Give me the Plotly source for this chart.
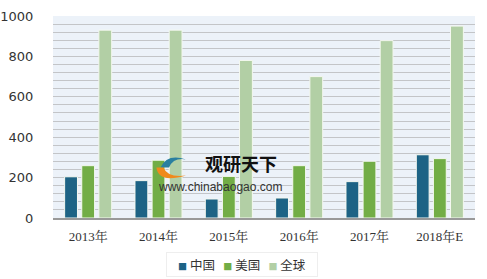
import plotly.graph_objects as go

years = ["2013年", "2014年", "2015年", "2016年", "2017年", "2018年E"]
china = [204, 185, 94, 99, 180, 313]
usa = [259, 286, 206, 259, 281, 294]
world = [930, 930, 780, 700, 878, 950]

series = [
    ("中国", china, "#1d6385"),
    ("美国", usa, "#72ad46"),
    ("全球", world, "#b2cfa5"),
]

fig = go.Figure()
for name, vals, color in series:
    fig.add_trace(go.Bar(
        x=years, y=vals, name=name,
        marker=dict(color=color, line=dict(color="#f4f8f0", width=1)),
    ))

fig.update_layout(
    width=487, height=279,
    margin=dict(l=53, r=12, t=16, b=61, autoexpand=False),
    paper_bgcolor="white",
    plot_bgcolor="#ecf2f9",
    barmode="group",
    bargap=0.27,
    bargroupgap=0.25,
    font=dict(family="Noto Sans CJK SC, sans-serif", color="#333333"),
    showlegend=False,
    xaxis=dict(
        showgrid=False, showline=True, linecolor="#999999", linewidth=1.5,
        ticks="outside", ticklen=6, tickcolor="rgba(0,0,0,0)",
        tickfont=dict(size=13, family="Liberation Serif, Noto Serif CJK SC, Noto Sans CJK SC", color="#333333"),
        automargin=False,
    ),
    yaxis=dict(
        range=[0, 1000], tickvals=[0, 200, 400, 600, 800, 1000],
        showgrid=True, gridcolor="#c3c5c8", gridwidth=1,
        minor=dict(dtick=40, tick0=0, showgrid=True, gridcolor="#c3c5c8", gridwidth=1),
        zeroline=False, showline=False,
        ticks="outside", ticklen=16, tickcolor="rgba(0,0,0,0)",
        tickfont=dict(size=13, family="DejaVu Sans, sans-serif", color="#333333"),
        automargin=False,
    ),
)

# Compact legend box below the axis: small colour squares before each series name
legend_parts = [
    f"<span style='color:{color};font-size:9px'>■</span> {name}"
    for name, _, color in series
]
fig.add_annotation(
    text="&nbsp;&nbsp;&nbsp;".join(legend_parts),
    xref="paper", yref="paper", x=0.448, y=-0.228,
    xanchor="center", yanchor="middle", showarrow=False,
    font=dict(size=12.5, color="#333333", family="Noto Sans CJK SC"),
    bgcolor="white", bordercolor="#eeeeee", borderwidth=1, borderpad=2,
    width=146,
)

# Watermark brand text
fig.add_annotation(
    text="<b>观研天下</b>", xref="paper", yref="paper",
    x=0.445, y=0.196, showarrow=False,
    font=dict(size=18, color="#111111", family="Noto Sans CJK SC"),
)
fig.add_annotation(
    text="www.chinabaogao.com", xref="paper", yref="paper",
    x=0.396, y=0.108, showarrow=False,
    font=dict(size=12, color="#333333", family="Liberation Sans, Arial"),
)
# Swirl mark of the watermark logo
fig.add_shape(type="path", xref="paper", yref="paper",
              path="M 0.255 0.25 Q 0.27 0.32 0.315 0.29 Q 0.285 0.30 0.275 0.25 Z",
              fillcolor="#2a7fa0", line=dict(width=0))
fig.add_shape(type="path", xref="paper", yref="paper",
              path="M 0.245 0.25 Q 0.25 0.17 0.315 0.21 Q 0.27 0.20 0.262 0.25 Z",
              fillcolor="#f08a1c", line=dict(width=0))

fig.write_html("out.html")
